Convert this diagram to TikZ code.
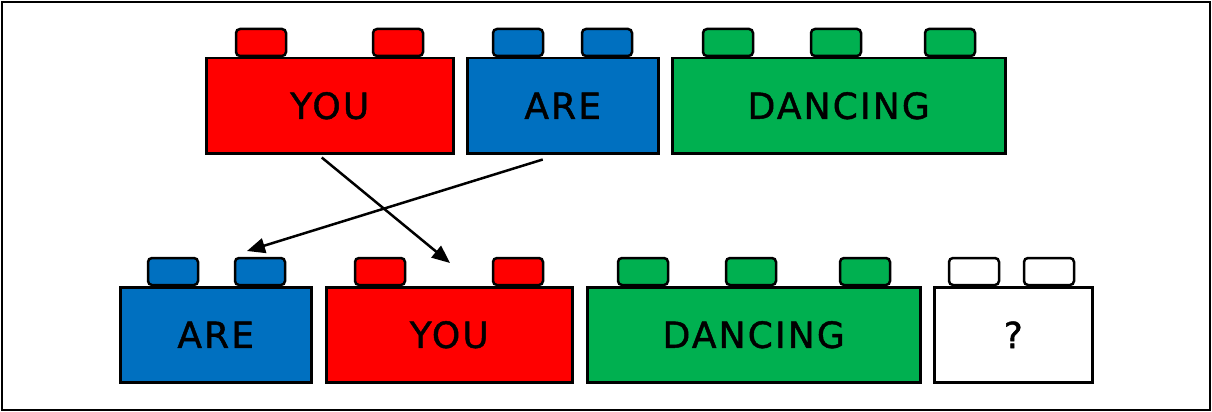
\documentclass[tikz,border=0pt]{standalone}
\usepackage{fontspec}
\setmainfont{DejaVu Sans}[LetterSpace=6,FakeBold=1.2]
\usepackage{tikz}
\usetikzlibrary{arrows.meta}
\definecolor{brickred}{HTML}{FF0000}
\definecolor{brickblue}{HTML}{0070C0}
\definecolor{brickgreen}{HTML}{00B050}

\begin{document}
\begin{tikzpicture}[x=1pt,y=-1pt,
  brick/.style={draw, line width=2.5pt, anchor=north west, minimum height=95pt,
    inner sep=0pt, font=\fontsize{36}{36}\selectfont},
  stud/.style={draw, line width=2.5pt, rounded corners=4pt},
  swap/.style={-{Triangle[length=18pt,width=15pt]}, line width=2.5pt}]
\useasboundingbox (0,0) rectangle (1212,412);
\draw[line width=2.5pt] (2,2) rectangle (1210,410);
% top row
\foreach \x in {236,373} \draw[stud, fill=brickred] (\x,29) rectangle ++(50,27);
\foreach \x in {493,582} \draw[stud, fill=brickblue] (\x,29) rectangle ++(50,27);
\foreach \x in {703,811,925} \draw[stud, fill=brickgreen] (\x,29) rectangle ++(50,27);
\node[brick, fill=brickred, minimum width=247pt] (you1) at (205,57) {YOU};
\node[brick, fill=brickblue, minimum width=191pt] (are1) at (466,57) {ARE};
\node[brick, fill=brickgreen, minimum width=333pt] (dancing1) at (671,57) {DANCING};
% bottom row
\foreach \x in {148,235} \draw[stud, fill=brickblue] (\x,258) rectangle ++(50,27);
\foreach \x in {355,493} \draw[stud, fill=brickred] (\x,258) rectangle ++(50,27);
\foreach \x in {618,726,840} \draw[stud, fill=brickgreen] (\x,258) rectangle ++(50,27);
\foreach \x in {949,1024} \draw[stud, fill=white] (\x,258) rectangle ++(50,27);
\node[brick, fill=brickblue, minimum width=191pt] (are2) at (119,286) {ARE};
\node[brick, fill=brickred, minimum width=246pt] (you2) at (325,286) {YOU};
\node[brick, fill=brickgreen, minimum width=333pt] (dancing2) at (586,286) {DANCING};
\node[brick, fill=white, minimum width=158pt] (next) at (933,286) {?};
% arrows
\coordinate (youtip) at (450,263);
\coordinate (aretip) at (247,251);
\draw[swap] ([xshift=-8pt,yshift=-3pt]you1.south) -- (youtip);
\draw[swap] ([xshift=-20pt,yshift=-5pt]are1.south) -- (aretip);
\end{tikzpicture}
\end{document}
